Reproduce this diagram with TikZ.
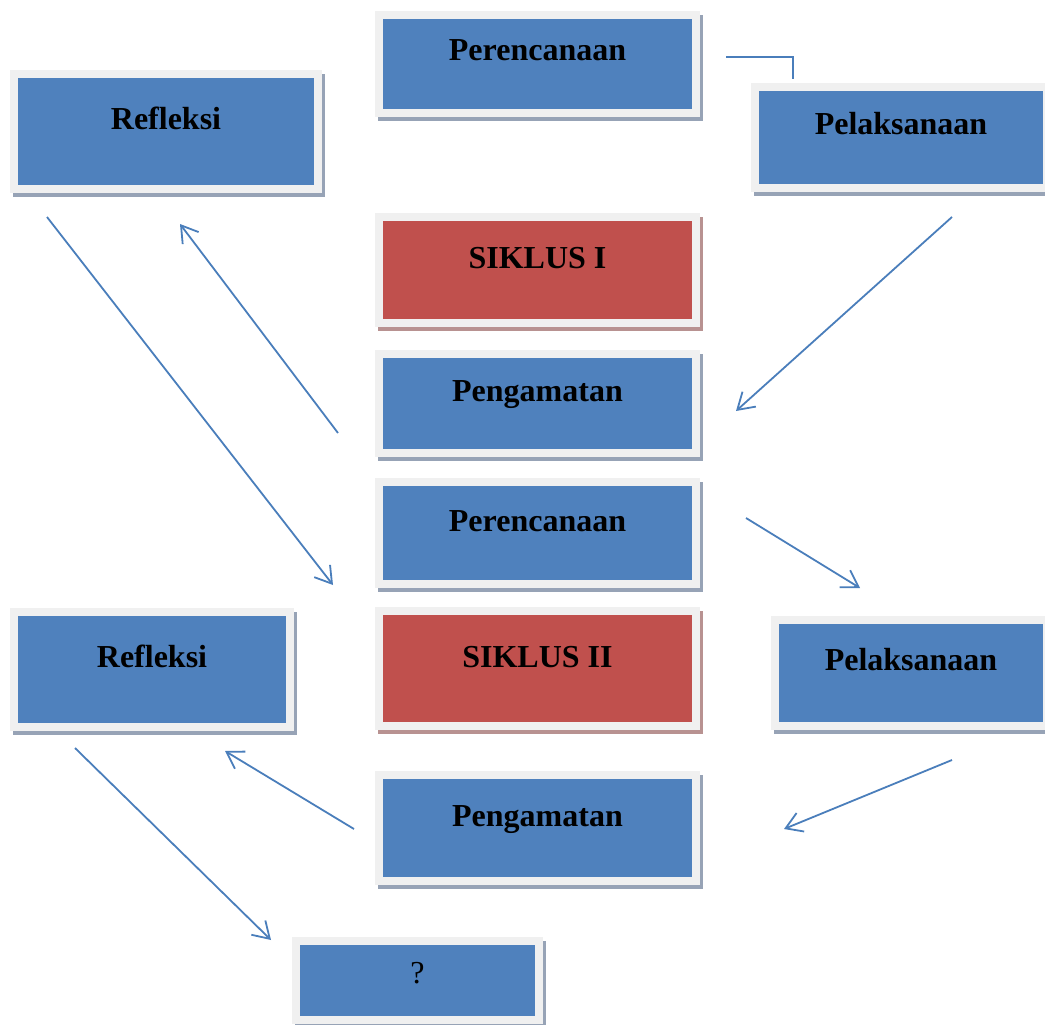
\documentclass[tikz,border=0pt]{standalone}
\usepackage{fontspec}
\setmainfont{Liberation Serif}
\usetikzlibrary{positioning,shadows,arrows.meta}
\definecolor{biru}{HTML}{4F81BD}
\definecolor{merah}{HTML}{C0504D}
\definecolor{bingkai}{HTML}{F0F0F0}
\definecolor{bayangbiru}{HTML}{97A3B6}
\definecolor{bayangmerah}{HTML}{B89291}
\definecolor{garis}{HTML}{4A7EBB}
\tikzset{
	dasar/.style={rectangle, draw=bingkai, line width=8pt, inner sep=0pt},
	kotakbiru/.style={dasar, fill=biru,
		drop shadow={shadow xshift=3pt, shadow yshift=-4pt, opacity=1, fill=bayangbiru, draw=bayangbiru, line width=8pt}},
	kotakmerah/.style={dasar, fill=merah,
		drop shadow={shadow xshift=3pt, shadow yshift=-4pt, opacity=1, fill=bayangmerah, draw=bayangmerah, line width=8pt}},
	judul/.style={font=\fontsize{32}{38}\selectfont\bfseries, text=black, inner sep=0pt, anchor=base},
	tanda/.style={font=\fontsize{32}{38}\selectfont, text=black, inner sep=0pt, anchor=base},
	garisbiru/.style={draw=garis, line width=1.8pt},
	panah/.style={garisbiru, -{Straight Barb[length=16pt,width=20pt]}}
}

\begin{document}
\begin{tikzpicture}[x=1pt, y=-1pt]
	\useasboundingbox (0,0) rectangle (1045,1025);
	
	%Siklus I
	\node[kotakbiru, minimum width=317pt, minimum height=98pt,
		label={[judul, yshift=-50pt]north:Perencanaan}] (renc1) at (537.5,64) {};
	\node[kotakbiru, minimum width=304pt, minimum height=115pt,
		label={[judul, yshift=-59pt]north:Refleksi}] (ref1) at (166,131.5) {};
	\node[kotakbiru, minimum width=292pt, minimum height=101pt,
		label={[judul, yshift=-51pt]north:Pelaksanaan}] (pel1) at (901,137.5) {};
	\node[kotakmerah, minimum width=317pt, minimum height=106pt,
		label={[judul, yshift=-55pt]north:SIKLUS I}] (sik1) at (537.5,270) {};
	\node[kotakbiru, minimum width=317pt, minimum height=99pt,
		label={[judul, yshift=-51pt]north:Pengamatan}] (amat1) at (537.5,403.5) {};
	
	%Siklus II
	\node[kotakbiru, minimum width=317pt, minimum height=102pt,
		label={[judul, yshift=-53pt]north:Perencanaan}] (renc2) at (537.5,533) {};
	\node[kotakbiru, minimum width=276pt, minimum height=115pt,
		label={[judul, yshift=-59pt]north:Refleksi}] (ref2) at (152,669.5) {};
	\node[kotakmerah, minimum width=317pt, minimum height=115pt,
		label={[judul, yshift=-60pt]north:SIKLUS II}] (sik2) at (537.5,668.5) {};
	\node[kotakbiru, minimum width=272pt, minimum height=106pt,
		label={[judul, yshift=-54pt]north:Pelaksanaan}] (pel2) at (911,673) {};
	\node[kotakbiru, minimum width=317pt, minimum height=106pt,
		label={[judul, yshift=-55pt]north:Pengamatan}] (amat2) at (537.5,828) {};
	\node[kotakbiru, minimum width=243pt, minimum height=79pt,
		label={[tanda, yshift=-46pt]north:?}] (tanya) at (417.5,980.5) {};
	
	%Lines
	\draw[garisbiru] ([xshift=26pt,yshift=7pt]renc1.east) -| ([xshift=-108pt,yshift=4pt]pel1.north);
	\draw[panah] ([xshift=51pt,yshift=-25pt]pel1.south) -- ([xshift=36pt,yshift=-7.5pt]amat1.east);
	\draw[panah] ([xshift=-37pt,yshift=-29.5pt]amat1.west) -- ([xshift=14pt,yshift=-31pt]ref1.south);
	\draw[panah] ([xshift=-119pt,yshift=-24pt]ref1.south) -- ([xshift=-42pt,yshift=-52pt]renc2.west);
	\draw[panah] ([xshift=46pt,yshift=15pt]renc2.east) -- ([xshift=-51pt,yshift=28pt]pel2.north);
	\draw[panah] ([xshift=41pt,yshift=-30pt]pel2.south) -- ([xshift=84pt,yshift=-1pt]amat2.east);
	\draw[panah] ([xshift=-21pt,yshift=-1pt]amat2.west) -- ([xshift=73pt,yshift=-20pt]ref2.south);
	\draw[panah] ([xshift=-77pt,yshift=-17pt]ref2.south) -- ([xshift=-21pt,yshift=40.5pt]tanya.west);
\end{tikzpicture}
\end{document}
